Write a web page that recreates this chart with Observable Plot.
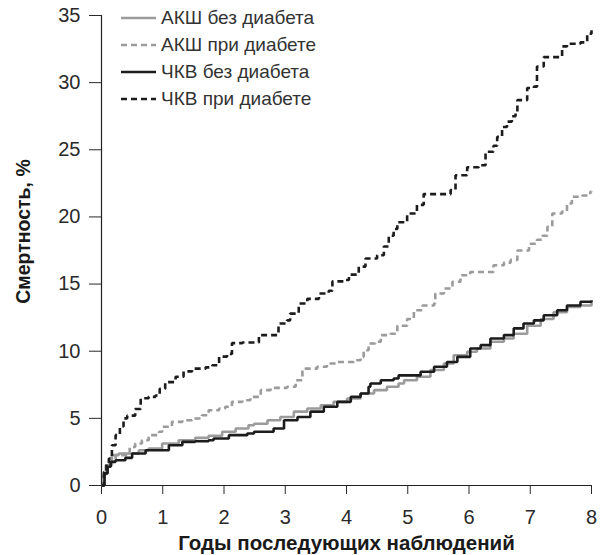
<!DOCTYPE html>
<html>
<head>
<meta charset="utf-8">
<script src="https://cdn.jsdelivr.net/npm/d3@7"></script>
<script src="https://cdn.jsdelivr.net/npm/@observablehq/plot@0.6"></script>
<style>
  html, body { margin: 0; padding: 0; background: #fff; }
  #wrap { position: relative; width: 604px; height: 555px; font-family: "Liberation Sans", Arial, sans-serif; }
  #legend { position: absolute; left: 121px; top: 4px; font-size: 19px; color: #333; }
  #legend .row { display: flex; align-items: center; height: 27px; }
  #legend svg { margin-right: 4px; }
</style>
</head>
<body>
<div id="wrap"><div id="legend"></div></div>
<script>
// ---- data ----
const seriesNames = ["АКШ без диабета", "АКШ при диабете", "ЧКВ без диабета", "ЧКВ при диабете"];
const xTicks = [0, 1, 2, 3, 4, 5, 6, 7, 8];
const yTicks = [0, 5, 10, 15, 20, 25, 30, 35];
const xTitle = ["Годы последующих наблюдений"];
const yTitle = ["Смертность, %"];

// [years, mortality %]
const cabgNoDiab = [[0,0],[0.03,0.8],[0.07,1.5],[0.17,2.26],[0.28,2.38],[0.61,2.63],[0.77,2.76],[0.99,3.13],[1.26,3.37],[1.53,3.55],[1.75,3.7],[1.97,4.0],[2.19,4.24],[2.40,4.49],[2.49,4.6],[2.71,4.86],[2.92,5.1],[3.14,5.5],[3.36,5.73],[3.58,5.98],[3.79,6.23],[4.01,6.48],[4.23,6.85],[4.45,7.1],[4.66,7.35],[4.85,7.6],[4.94,7.84],[5.15,8.1],[5.37,8.6],[5.59,9.08],[5.75,9.7],[5.97,9.96],[6.13,10.2],[6.35,10.7],[6.57,10.95],[6.73,11.3],[6.95,11.9],[7.17,12.4],[7.38,12.9],[7.60,13.3],[7.82,13.4],[8.0,13.68]];
const cabgDiab = [[0,0],[0.04,0.9],[0.09,1.76],[0.23,2.26],[0.45,2.5],[0.46,2.87],[0.55,3.13],[0.66,3.37],[0.77,3.75],[0.94,4.0],[0.99,4.37],[1.15,4.74],[1.32,4.86],[1.48,4.99],[1.64,5.23],[1.75,5.6],[1.92,5.73],[2.02,5.86],[2.13,6.23],[2.30,6.35],[2.43,6.6],[2.60,7.1],[2.76,7.27],[3.03,7.35],[3.17,7.84],[3.28,8.7],[3.52,8.84],[3.68,9.08],[3.85,9.2],[4.12,9.33],[4.23,9.58],[4.28,10.07],[4.36,10.57],[4.47,10.7],[4.56,11.2],[4.72,11.3],[4.83,11.9],[4.99,12.4],[5.10,13.05],[5.24,13.4],[5.43,13.55],[5.45,14.3],[5.59,14.67],[5.73,15.17],[5.86,15.66],[6.02,15.9],[6.40,16.4],[6.57,16.6],[6.68,16.8],[6.79,17.5],[6.98,18.0],[7.11,18.3],[7.20,18.6],[7.28,19.26],[7.36,20.25],[7.52,20.4],[7.60,21.0],[7.68,21.5],[7.85,21.6],[7.98,21.87],[8.0,21.9]];
const pciNoDiab = [[0,0],[0.05,0.9],[0.10,1.4],[0.15,1.76],[0.23,1.88],[0.39,2.06],[0.50,2.38],[0.72,2.63],[1.10,3.0],[1.32,3.25],[1.53,3.3],[1.75,3.37],[1.83,3.5],[2.08,3.75],[2.38,3.87],[2.49,4.0],[2.81,4.24],[2.98,4.86],[3.20,5.1],[3.41,5.5],[3.63,5.86],[3.85,6.23],[4.07,6.6],[4.23,6.85],[4.36,7.35],[4.39,7.6],[4.56,7.84],[4.77,7.97],[4.85,8.2],[5.21,8.47],[5.43,8.84],[5.64,9.2],[5.81,9.58],[6.02,10.2],[6.19,10.45],[6.35,10.95],[6.57,11.2],[6.73,11.7],[6.89,12.06],[7.06,12.3],[7.22,12.68],[7.44,13.05],[7.60,13.4],[7.82,13.68],[8.0,13.8]];
const pciDiab = [[0,0],[0.04,1.0],[0.08,1.7],[0.12,2.0],[0.17,3.0],[0.23,3.75],[0.30,4.4],[0.36,5.0],[0.42,5.2],[0.55,5.7],[0.64,6.5],[0.77,6.6],[0.88,6.7],[0.95,7.2],[1.04,7.7],[1.21,8.1],[1.34,8.5],[1.48,8.7],[1.70,8.8],[1.81,8.95],[1.92,9.6],[2.05,9.8],[2.13,10.6],[2.30,10.65],[2.57,11.2],[2.89,12.06],[3.03,12.3],[3.08,12.8],[3.22,13.55],[3.36,13.9],[3.55,14.3],[3.71,14.5],[3.77,15.2],[3.96,15.3],[4.04,15.7],[4.20,16.3],[4.31,16.9],[4.50,17.15],[4.61,17.8],[4.69,18.6],[4.77,19.1],[4.83,19.6],[4.99,20.25],[5.15,20.9],[5.26,21.7],[5.70,22.0],[5.78,23.1],[5.97,23.7],[6.16,23.85],[6.27,24.85],[6.40,25.3],[6.46,25.96],[6.54,26.7],[6.62,27.1],[6.70,27.5],[6.76,27.8],[6.79,28.7],[6.95,29.6],[7.06,29.7],[7.11,31.2],[7.22,31.9],[7.52,32.7],[7.60,32.9],[7.82,33.0],[7.93,33.65],[8.0,33.9]];

// ---- styles ----
const GRAY = "#9b9b9b", BLACK = "#1c1c1c";
const styles = [
  {data: cabgNoDiab, stroke: GRAY, dash: null},
  {data: cabgDiab, stroke: GRAY, dash: "6,4"},
  {data: pciNoDiab, stroke: BLACK, dash: null},
  {data: pciDiab, stroke: BLACK, dash: "6,4"}
];

const lineMarks = styles.map(s => Plot.line(s.data, {
  x: d => d[0], y: d => d[1], curve: "step-after",
  stroke: s.stroke, strokeWidth: 2.6, strokeDasharray: s.dash, strokeLinejoin: "miter", strokeLinecap: "butt"
}));

const chart = Plot.plot({
  width: 604, height: 555,
  marginLeft: 101, marginRight: 13, marginTop: 15, marginBottom: 70,
  style: {fontFamily: "'Liberation Sans', Arial, sans-serif", fontSize: "20px", color: "#2a2a2a", background: "#fff"},
  x: {domain: [0, 8], ticks: xTicks, tickSize: 9, tickPadding: 15, label: null},
  y: {domain: [0, 35], ticks: yTicks, tickSize: 12, tickPadding: 9, label: null},
  marks: [
    Plot.ruleY([0], {x1: 0, x2: 8, stroke: "#222", strokeWidth: 1.2}),
    Plot.ruleX([0], {y1: 0, y2: 35, stroke: "#222", strokeWidth: 1.2}),
    ...lineMarks,
    Plot.text(xTitle, {text: d => d, frameAnchor: "bottom", textAnchor: "middle", lineAnchor: "middle", dy: 58, fontWeight: "bold", fontSize: 20.5, fill: "#1a1a1a"}),
    Plot.text(yTitle, {text: d => d, frameAnchor: "left", textAnchor: "middle", lineAnchor: "middle", rotate: -90, dx: -78, dy: -19, fontWeight: "bold", fontSize: 19.5, fill: "#1a1a1a"})
  ]
});
document.getElementById("wrap").prepend(chart);

// legend
const legend = d3.select("#legend");
styles.forEach((s, i) => {
  const row = legend.append("div").attr("class", "row");
  const svg = row.append("svg").attr("width", 36).attr("height", 10);
  svg.append("line").attr("x1", 0).attr("x2", 35).attr("y1", 5).attr("y2", 5)
    .attr("stroke", s.stroke).attr("stroke-width", 2.6).attr("stroke-dasharray", s.dash);
  row.append("span").text(seriesNames[i]);
});
</script>
</body>
</html>
